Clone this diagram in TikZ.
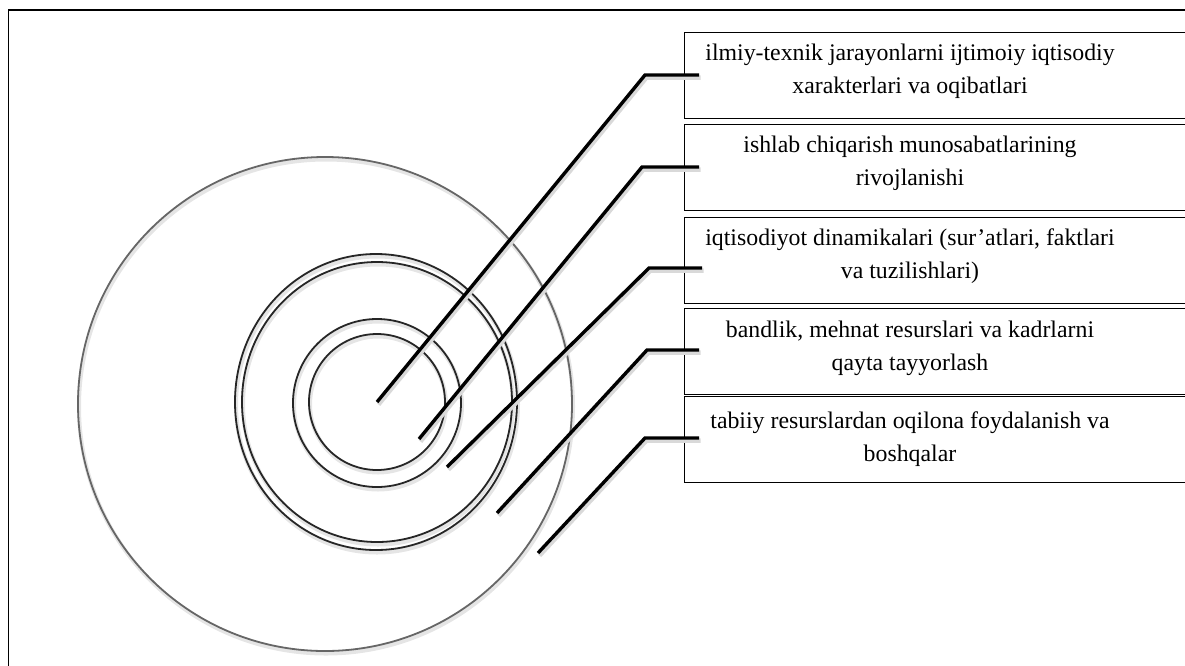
\documentclass[tikz,border=0pt]{standalone}
\usepackage{fontspec}
\setmainfont{Liberation Serif}
\tikzstyle{ring}=[draw=black!85,line width=1.8pt,preaction={draw=black!10,line width=4pt,transform canvas={shift={(1pt,-2.5pt)}}}]
\tikzstyle{bigring}=[ring,draw=black!60]
\tikzstyle{leader}=[draw=black,line width=3.4pt,preaction={draw=black!15,line width=4.5pt,transform canvas={shift={(1.5pt,-2.5pt)}}}]
\tikzstyle{infobox}=[rectangle,draw=black,line width=1.4pt,anchor=north west,minimum width=560pt,minimum height=86pt,inner sep=0pt]
\tikzstyle{boxtext}=[align=center,inner sep=0pt,font=\fontsize{23.8}{33}\selectfont]

\begin{document}
\begin{tikzpicture}[x=1pt,y=-1pt]
	\useasboundingbox (0,0) rectangle (1185,665);
	\clip (0,0) rectangle (1185,665);
	% frame
	\draw[line width=1.5pt] (8.5,700) -- (8.5,10) -- (1200,10);
	% rings
	\draw[bigring] (325,404) circle (247);
	\draw[ring] (376,402) ellipse [x radius=141,y radius=148];
	\draw[ring] (377,402) ellipse [x radius=135,y radius=140];
	\draw[ring] (377,403) circle (84);
	\draw[ring] (377,402) circle (68);
	% boxes
	\node[infobox] (b1) at (684,32) {};
	\node[infobox] (b2) at (684,124) {};
	\node[infobox] (b3) at (684,217) {};
	\node[infobox] (b4) at (684,308) {};
	\node[infobox] (b5) at (684,396) {};
	\node[boxtext] (t1) at (910,71) {ilmiy-texnik jarayonlarni ijtimoiy iqtisodiy\\xarakterlari va oqibatlari};
	\node[boxtext] (t2) at (910,163) {ishlab chiqarish munosabatlarining\\rivojlanishi};
	\node[boxtext] (t3) at (910,256) {iqtisodiyot dinamikalari (sur’atlari, faktlari\\va tuzilishlari)};
	\node[boxtext] (t4) at (910,348) {bandlik, mehnat resurslari va kadrlarni\\qayta tayyorlash};
	\node[boxtext] (t5) at (910,439) {tabiiy resurslardan oqilona foydalanish va\\boshqalar};
	% leaders
	\coordinate (p1) at (377,402);
	\coordinate (p2) at (419,439);
	\coordinate (p3) at (447,467);
	\coordinate (p4) at (497,513);
	\coordinate (p5) at (538,553);
	\coordinate (k1) at (645,75);
	\coordinate (k2) at (642,167);
	\coordinate (k3) at (649,268);
	\coordinate (k4) at (647,350);
	\coordinate (k5) at (645,438);
	\draw[leader] (p1) -- (k1) -- ([xshift=15pt]k1 -| b1.west);
	\draw[leader] (p2) -- (k2) -- ([xshift=15pt]k2 -| b2.west);
	\draw[leader] (p3) -- (k3) -- ([xshift=18pt]k3 -| b3.west);
	\draw[leader] (p4) -- (k4) -- ([xshift=15pt]k4 -| b4.west);
	\draw[leader] (p5) -- (k5) -- ([xshift=15pt]k5 -| b5.west);
\end{tikzpicture}
\end{document}
